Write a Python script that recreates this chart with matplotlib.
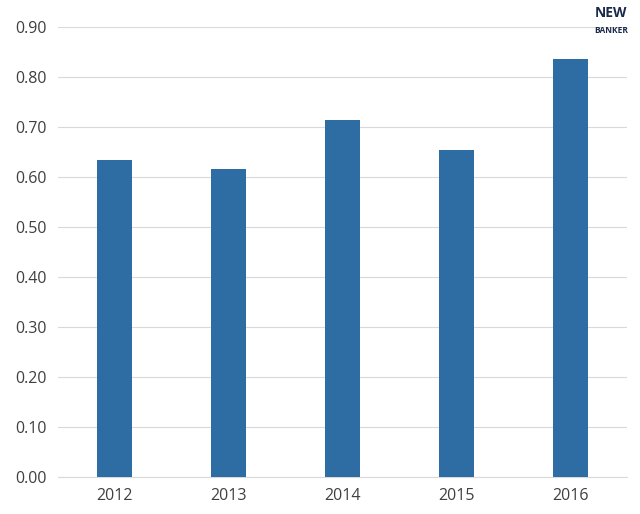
import matplotlib.pyplot as plt
import numpy as np

years = ['2012', '2013', '2014', '2015', '2016']
values = [0.634, 0.616, 0.714, 0.654, 0.836]

plt.rcParams['font.family'] = ['Open Sans', 'DejaVu Sans']

fig = plt.figure(figsize=(6.4, 5.14), dpi=100)
ax = fig.add_axes([0.09, 0.072, 0.89, 0.875])

x = np.arange(len(years))
ax.bar(x, values, width=0.31, color='#2E6CA4', zorder=3)

ax.set_xlim(-0.5, len(years) - 0.5)
ax.set_ylim(0, 0.9)
ax.set_yticks(np.arange(0, 0.91, 0.1))
ax.set_yticklabels([f'{v:.2f}' for v in np.arange(0, 0.91, 0.1)])
ax.set_xticks(x)
ax.set_xticklabels(years)
ax.tick_params(axis='both', length=0, labelsize=11.5, colors='#404040', pad=8)
ax.grid(axis='y', color='#d9d9d9', linewidth=0.8, zorder=0)
for s in ['top', 'right', 'left']:
    ax.spines[s].set_visible(False)
ax.spines['bottom'].set_color('#d9d9d9')

fig.text(0.955, 0.975, 'NEW', ha='center', va='center', fontsize=10,
         fontweight='bold', color='#1a2a4a')
fig.text(0.955, 0.94, 'BANKER', ha='center', va='center', fontsize=6,
         fontweight='bold', color='#1a2a4a')

fig.savefig('out.png', dpi=100)
